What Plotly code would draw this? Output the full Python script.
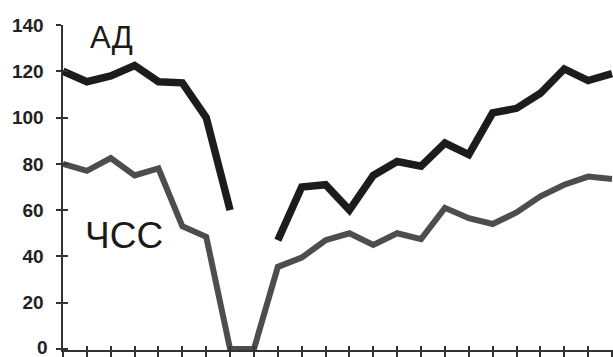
import plotly.graph_objects as go

# ---- data ----
points = list(range(24))
ad_values = [120, 115.5, 118, 122.5, 115.5, 115, 100, 60, None, 47, 70, 71, 60, 75,
             81, 79, 89, 84, 102, 104, 110.5, 121, 116, 119]
hr_values = [80, 77, 82.5, 75, 78, 53, 48.5, 0, 0, 35.5, 39.5, 47, 50, 45, 50, 47.5,
             61, 56.5, 54, 59, 66, 71, 74.5, 73.5]
y_ticks = [0, 20, 40, 60, 80, 100, 120, 140]
label_ad = "АД"
label_hr = "ЧСС"

# ---- layout geometry (pixels) ----
W, H = 613, 357
ML, MR, MT, MB = 50, 0, 20, 0
PW, PH = W - ML - MR, H - MT - MB
X0_PX, X23_PX = 63, 612     # pixel of first / last point
Y0_PX, Y140_PX = 349, 25    # pixel of value 0 / 140
ux = (X23_PX - X0_PX) / 23.0
uy = (Y0_PX - Y140_PX) / 140.0

x_lo = (ML - X0_PX) / ux
x_hi = (W - MR - X0_PX) / ux
y_lo = -(H - MB - Y0_PX) / uy
y_hi = (Y0_PX - MT) / uy

def fx(px):
    return (px - ML) / PW

def fy(py):
    return (H - MB - py) / PH

font = "Liberation Sans, Arial, sans-serif"
tick_font = dict(family=font, size=19, color="#222222", weight="bold")

fig = go.Figure()
fig.add_trace(go.Scatter(x=points, y=hr_values, mode="lines",
                         line=dict(color="#4d4d4d", width=6),
                         connectgaps=False, hoverinfo="skip", showlegend=False))
fig.add_trace(go.Scatter(x=points, y=ad_values, mode="lines",
                         line=dict(color="#1c1c1c", width=7.5),
                         connectgaps=False, hoverinfo="skip", showlegend=False))
# dummy traces to make display axes exist
fig.add_trace(go.Scatter(x=[None], y=[None], xaxis="x2", yaxis="y2", showlegend=False))
fig.add_trace(go.Scatter(x=[None], y=[None], xaxis="x3", yaxis="y3", showlegend=False))

axis_col = "#333333"
pad = 0.6
x_dom = [fx(X0_PX - 0.5), 1]
y_dom = [fy(Y0_PX + pad * uy), fy(Y140_PX)]
x_rng = [-0.5 / ux, x_hi]
y_rng = [-pad, 140]

# the bottom label is placed as an annotation (plotly hides it at the corner)
tick_text = ["" if v == y_ticks[0] else str(v) for v in y_ticks]

fig.update_layout(
    width=W, height=H,
    margin=dict(l=ML, r=MR, t=MT, b=MB, autoexpand=False),
    paper_bgcolor="white", plot_bgcolor="rgba(0,0,0,0)",
    font=dict(family=font, color="#1a1a1a"),
    xaxis=dict(domain=[0, 1], range=[x_lo, x_hi], visible=False, automargin=False),
    yaxis=dict(domain=[0, 1], range=[y_lo, y_hi], visible=False, automargin=False),
    xaxis2=dict(domain=x_dom, range=x_rng, anchor="y2", showline=True,
                linecolor=axis_col, linewidth=2, ticks="outside", ticklen=5,
                tickwidth=2, tickcolor=axis_col, tickmode="array", tickvals=points,
                showticklabels=False, showgrid=False, zeroline=False, automargin=False),
    yaxis2=dict(domain=y_dom, range=y_rng, anchor="x2", showline=True,
                linecolor=axis_col, linewidth=2, ticks="outside", ticklen=5,
                tickwidth=2, tickcolor=axis_col, tickmode="array", tickvals=y_ticks,
                ticktext=tick_text, ticklabelstandoff=8, tickfont=tick_font,
                showgrid=False, zeroline=False, automargin=False),
    xaxis3=dict(domain=x_dom, range=x_rng, anchor="y3", overlaying="x2",
                ticks="inside", ticklen=4, tickwidth=2, tickcolor=axis_col,
                tickmode="array", tickvals=points, showticklabels=False,
                showgrid=False, zeroline=False, showline=False, automargin=False),
    yaxis3=dict(domain=y_dom, range=y_rng, anchor="x3", overlaying="y2",
                ticks="inside", ticklen=5, tickwidth=2, tickcolor=axis_col,
                tickmode="array", tickvals=y_ticks, showticklabels=False,
                showgrid=False, zeroline=False, showline=False, automargin=False),
)

fig.add_annotation(text=str(y_ticks[0]), xref="paper", yref="y2",
                   x=fx(X0_PX - 14), y=y_ticks[0], xanchor="right", yanchor="middle",
                   yshift=2, borderpad=0, showarrow=False, font=tick_font)
fig.add_annotation(text=label_ad, xref="paper", yref="paper",
                   x=fx(111), y=fy(38), xanchor="center", yanchor="middle",
                   showarrow=False, font=dict(family=font, size=31, color="#1a1a1a"))
fig.add_annotation(text=label_hr, xref="paper", yref="paper",
                   x=fx(124), y=fy(236), xanchor="center", yanchor="middle",
                   showarrow=False, font=dict(family=font, size=37, color="#1a1a1a"))

fig.write_html("out.html", config={"displayModeBar": False},
               post_script="document.body.style.margin='0';document.body.style.padding='0';")
